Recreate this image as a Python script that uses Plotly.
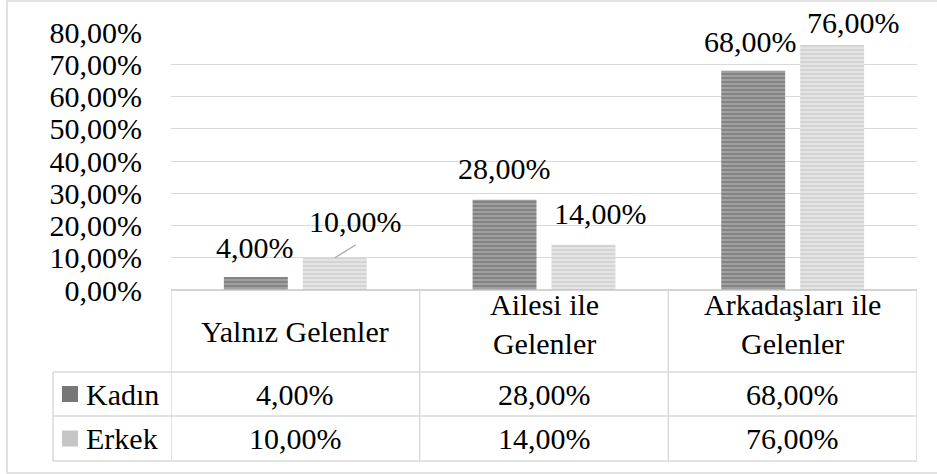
import plotly.graph_objects as go

# data
categories = ["Yalnız Gelenler", "Ailesi ile Gelenler", "Arkadaşları ile Gelenler"]
header_labels = ["Yalnız Gelenler", "Ailesi ile<br>Gelenler", "Arkadaşları ile<br>Gelenler"]
series_names = ["Kadın", "Erkek"]
kadin = [0.04, 0.28, 0.68]
erkek = [0.10, 0.14, 0.76]
y_ticks = [0, 0.1, 0.2, 0.3, 0.4, 0.5, 0.6, 0.7, 0.8]

# page geometry (pixels)
W, H = 937, 474
L, R, T, B = 171, 20, 32, 184
PW, PH = W - L - R, H - T - B
FONT = "'Liberation Serif', 'Times New Roman', serif"
GRID = "#d9d9d9"


def px_x(x):
    return (x - L) / PW


def px_y(y):
    return (H - B - y) / PH


def pct(v):
    return f"{v * 100:.2f}%".replace(".", ",")


styles = [
    dict(bg="#a0a0a0", fg="#595959", icon="#777777"),
    dict(bg="#e4e4e4", fg="#bcbcbc", icon="#c6c6c6"),
]

fig = go.Figure()
for name, vals, st in zip(series_names, [kadin, erkek], styles):
    fig.add_trace(go.Bar(
        x=categories, y=vals, name=name,
        marker=dict(color=st["bg"], line=dict(width=0),
                    pattern=dict(shape="-", bgcolor=st["bg"], fgcolor=st["fg"],
                                 size=4, solidity=0.4)),
    ))

# data labels (offsets mimic the hand-placed Excel labels)
bar_off = [-0.159, 0.159]
label_shift = [
    [(-1, 30), (0, 31), (-3, 29)],
    [(21, 36), (17, 31), (21, 22)],
]
annotations = []
for s, vals in enumerate([kadin, erkek]):
    for i, v in enumerate(vals):
        dx, dy = label_shift[s][i]
        annotations.append(dict(
            x=i + bar_off[s], y=v, xref="x", yref="y", text=pct(v),
            showarrow=False, xshift=dx, yshift=dy, yanchor="middle",
            font=dict(family=FONT, size=30, color="black"),
        ))

shapes = []
# leader line for the 10,00% label
shapes.append(dict(type="line", xref="x", yref="y", xsizemode="pixel", ysizemode="pixel",
                   xanchor=0 + bar_off[1], yanchor=erkek[0], x0=0, y0=0, x1=21, y1=13,
                   line=dict(color="#a6a6a6", width=1.3)))

# data table
rows_px = [290, 372, 416, 461]
header_y = [331, 324, 324]
leg_left = 53
line = dict(color=GRID, width=1.5)
shapes.append(dict(type="line", xref="paper", yref="paper", x0=0, x1=1,
                   y0=px_y(rows_px[0]), y1=px_y(rows_px[0]), line=dict(color="#c4c4c4", width=1.5)))
for y in rows_px[1:]:
    shapes.append(dict(type="line", xref="paper", yref="paper", x0=px_x(leg_left), x1=1,
                       y0=px_y(y), y1=px_y(y), line=line))
for xv in [-0.5, 0.5, 1.5, 2.5]:
    shapes.append(dict(type="line", xref="x", yref="paper", x0=xv, x1=xv,
                       y0=px_y(rows_px[0]), y1=px_y(rows_px[-1]), line=line))
shapes.append(dict(type="line", xref="paper", yref="paper", x0=px_x(leg_left), x1=px_x(leg_left),
                   y0=px_y(rows_px[1]), y1=px_y(rows_px[-1]), line=line))

cell_font = dict(family=FONT, size=30, color="black")
for i, lab in enumerate(header_labels):
    annotations.append(dict(x=i, y=px_y(header_y[i]), xref="x", yref="paper",
                            text=lab, showarrow=False, font=cell_font, yanchor="middle"))
for r, (name, vals, st) in enumerate(zip(series_names, [kadin, erkek], styles)):
    yc = (rows_px[r + 1] + rows_px[r + 2]) / 2
    for i, v in enumerate(vals):
        annotations.append(dict(x=i, y=px_y(yc), xref="x", yref="paper", text=pct(v),
                                showarrow=False, font=cell_font, yanchor="middle"))
    annotations.append(dict(x=px_x(84), y=px_y(yc), xref="paper", yref="paper", text=name,
                            showarrow=False, font=cell_font, xanchor="left", yanchor="middle"))
    shapes.append(dict(type="rect", xref="paper", yref="paper", x0=px_x(62), x1=px_x(78),
                       y0=px_y(yc + 8), y1=px_y(yc - 8), fillcolor=st["icon"], line=dict(width=0)))

# outer chart border
shapes.append(dict(type="rect", xref="paper", yref="paper", x0=px_x(7), x1=px_x(945),
                   y0=px_y(473), y1=px_y(1), line=dict(color=GRID, width=1.5), layer="below"))

fig.update_layout(
    width=W, height=H,
    margin=dict(l=L, r=R, t=T, b=B, autoexpand=False),
    paper_bgcolor="white", plot_bgcolor="white",
    barmode="group", bargap=0.365, bargroupgap=0.19,
    showlegend=False, separators=",.",
    font=dict(family=FONT, size=30, color="black"),
    xaxis=dict(showticklabels=False, showgrid=False, zeroline=False, showline=False,
               range=[-0.5, 2.5]),
    yaxis=dict(range=[0, 0.8], tickvals=y_ticks, tickformat=".2%", showgrid=True,
               gridcolor=GRID, gridwidth=1.3, zeroline=False, showline=False,
               ticklabelstandoff=28, tickfont=dict(family=FONT, size=30, color="black")),
    annotations=annotations, shapes=shapes,
)

fig.write_html("out.html", config={"displayModeBar": False},
               post_script="document.body.style.margin='0';")
